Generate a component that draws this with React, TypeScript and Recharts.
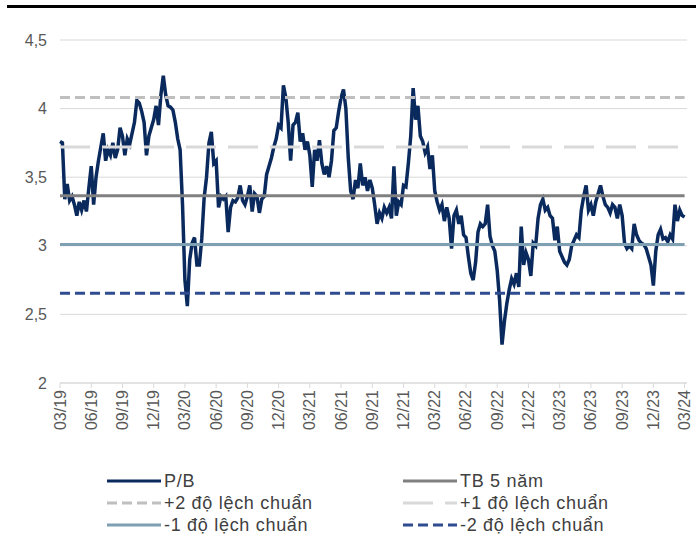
import { LineChart, Line, XAxis, YAxis, CartesianGrid, Legend } from "recharts";

const FONT = "'Liberation Sans', Arial, sans-serif";

// quarter labels on the x axis, one every 13 weeks
const quarterLabels = [
  "03/19", "06/19", "09/19", "12/19", "03/20", "06/20", "09/20", "12/20",
  "03/21", "06/21", "09/21", "12/21", "03/22", "06/22", "09/22", "12/22",
  "03/23", "06/23", "09/23", "12/23", "03/24",
];
const WEEKS_PER_QUARTER = 13;

// weekly P/B
const pbValues = [
  3.76, 3.75, 3.34, 3.45, 3.33, 3.36, 3.30, 3.22, 3.32, 3.26,
  3.33, 3.25, 3.42, 3.58, 3.30, 3.50, 3.62, 3.72, 3.82, 3.62,
  3.70, 3.66, 3.75, 3.64, 3.70, 3.86, 3.80, 3.66, 3.78, 3.74,
  3.82, 3.90, 4.06, 4.04, 3.98, 3.90, 3.66, 3.80, 3.86, 3.92,
  4.02, 3.88, 4.10, 4.24, 4.10, 4.02, 4.01, 3.99, 3.90, 3.78,
  3.70, 3.30, 2.75, 2.56, 2.90, 3.02, 3.06, 2.86, 2.86, 3.05,
  3.35, 3.50, 3.75, 3.83, 3.60, 3.62, 3.28, 3.36, 3.34, 3.36,
  3.10, 3.28, 3.33, 3.32, 3.35, 3.44, 3.33, 3.30, 3.36, 3.44,
  3.25, 3.38, 3.36, 3.24, 3.34, 3.36, 3.52, 3.58, 3.64, 3.72,
  3.78, 3.88, 3.86, 4.17, 4.08, 3.90, 3.62, 3.88, 3.90, 3.97,
  3.76, 3.82, 3.70, 3.76, 3.66, 3.43, 3.70, 3.62, 3.77, 3.60,
  3.52, 3.58, 3.50, 3.62, 3.84, 3.86, 3.98, 4.08, 4.14, 4.00,
  3.64, 3.40, 3.34, 3.48, 3.42, 3.60, 3.44, 3.50, 3.40, 3.48,
  3.42, 3.30, 3.16, 3.24, 3.20, 3.28, 3.24, 3.28, 3.20, 3.58,
  3.22, 3.32, 3.30, 3.44, 3.43, 3.60, 3.80, 4.15, 3.92, 4.02,
  3.80, 3.76, 3.68, 3.72, 3.56, 3.66, 3.40, 3.32, 3.26, 3.30,
  3.18, 3.28, 3.20, 2.98, 3.22, 3.26, 3.16, 3.22, 3.08, 3.06,
  2.92, 2.80, 2.75, 2.88, 3.10, 3.16, 3.14, 3.16, 3.30, 3.07,
  3.00, 2.96, 2.82, 2.60, 2.28, 2.45, 2.58, 2.68, 2.76, 2.72,
  2.80, 2.70, 3.14, 2.86, 2.95, 2.90, 2.78, 3.02, 3.00, 3.20,
  3.30, 3.34, 3.26, 3.28, 3.22, 3.20, 3.04, 3.14, 2.96, 2.92,
  2.88, 2.86, 2.90, 3.00, 3.04, 3.08, 3.06, 3.26, 3.36, 3.44,
  3.26, 3.30, 3.22, 3.32, 3.38, 3.44, 3.36, 3.30, 3.28, 3.24,
  3.30, 3.28, 3.20, 3.30, 3.22, 3.02, 2.98, 3.00, 2.98, 3.16,
  3.08, 3.04, 3.02, 3.01, 2.98, 2.92, 2.86, 2.71, 2.96, 3.08,
  3.12, 3.05, 3.06, 3.03, 3.08, 3.05, 3.30, 3.18, 3.26, 3.22,
  3.21,
];

// 5-year mean and standard deviation bands
const MEAN_5Y = 3.365;
const PLUS_2SD = 4.08;
const PLUS_1SD = 3.72;
const MINUS_1SD = 3.01;
const MINUS_2SD = 2.655;

const yTicks = [2, 2.5, 3, 3.5, 4, 4.5];

const data = pbValues.map((v, i) => ({
  w: i,
  pb: v,
  mean: MEAN_5Y,
  p2: PLUS_2SD,
  p1: PLUS_1SD,
  m1: MINUS_1SD,
  m2: MINUS_2SD,
}));

const xTicks = quarterLabels.map((_, k) => k * WEEKS_PER_QUARTER);

const series = [
  { key: "pb", name: "P/B", color: "#0a2a5e", dash: undefined, width: 3.5 },
  { key: "mean", name: "TB 5 năm", color: "#808080", dash: undefined, width: 3 },
  { key: "p2", name: "+2 độ lệch chuẩn", color: "#bfbfbf", dash: "10 5", width: 3 },
  { key: "p1", name: "+1 độ lệch chuẩn", color: "#d9d9d9", dash: "30 12", width: 3 },
  { key: "m1", name: "-1 độ lệch chuẩn", color: "#7f9fb2", dash: undefined, width: 3 },
  { key: "m2", name: "-2 độ lệch chuẩn", color: "#2e4c8f", dash: "10 5", width: 3 },
];

function QuarterTick({ x, y, payload }: any) {
  const label = quarterLabels[Math.round(payload.value / WEEKS_PER_QUARTER)];
  return (
    <text
      x={x}
      y={y}
      transform={`rotate(-90 ${x} ${y})`}
      textAnchor="end"
      dominantBaseline="central"
      fill="#595959"
      fontSize={16}
      fontFamily={FONT}
    >
      {label}
    </text>
  );
}

function LegendBox() {
  return (
    <div
      style={{
        display: "grid",
        gridTemplateColumns: "296px 296px",
        paddingLeft: 107,
        fontFamily: FONT,
        fontSize: 18,
        letterSpacing: 0.7,
        color: "#404040",
      }}
    >
      {series.map((s) => (
        <div key={s.key} style={{ display: "flex", alignItems: "center", height: 22 }}>
          <svg width={54} height={6}>
            <line x1={0} y1={3} x2={54} y2={3} stroke={s.color} strokeWidth={3} strokeDasharray={s.dash} />
          </svg>
          <span style={{ marginLeft: 3 }}>{s.name}</span>
        </div>
      ))}
    </div>
  );
}

export default function App() {
  return (
    <div style={{ position: "absolute", left: 0, top: 0, width: 696, height: 535, background: "#fff" }}>
      <div style={{ position: "absolute", left: 7, top: 5, width: 689, height: 3, background: "#000" }} />
      <LineChart width={696} height={535} data={data} margin={{ top: 40, right: 9, left: 0, bottom: 102 }}>
        <CartesianGrid vertical={false} stroke="#d9d9d9" />
        <XAxis
          dataKey="w"
          type="number"
          domain={[0, 261]}
          ticks={xTicks}
          interval={0}
          tick={<QuarterTick />}
          height={50}
          stroke="#d9d9d9"
          tickSize={5}
          tickMargin={2}
        />
        <YAxis
          domain={[2, 4.5]}
          ticks={yTicks}
          width={60}
          axisLine={false}
          tickLine={false}
          tickMargin={7}
          tickFormatter={(v: number) => String(v).replace(".", ",")}
          tick={{ fill: "#595959", fontSize: 16, fontFamily: FONT }}
        />
        {series.map((s) => (
          <Line
            key={s.key}
            dataKey={s.key}
            name={s.name}
            stroke={s.color}
            strokeWidth={s.width}
            strokeDasharray={s.dash}
            dot={false}
            activeDot={false}
            isAnimationActive={false}
            type="linear"
          />
        ))}
        <Legend
          verticalAlign="middle"
          align="center"
          layout="horizontal"
          content={<LegendBox />}
          wrapperStyle={{ top: 470, left: 0, width: 696 }}
        />
      </LineChart>
    </div>
  );
}
